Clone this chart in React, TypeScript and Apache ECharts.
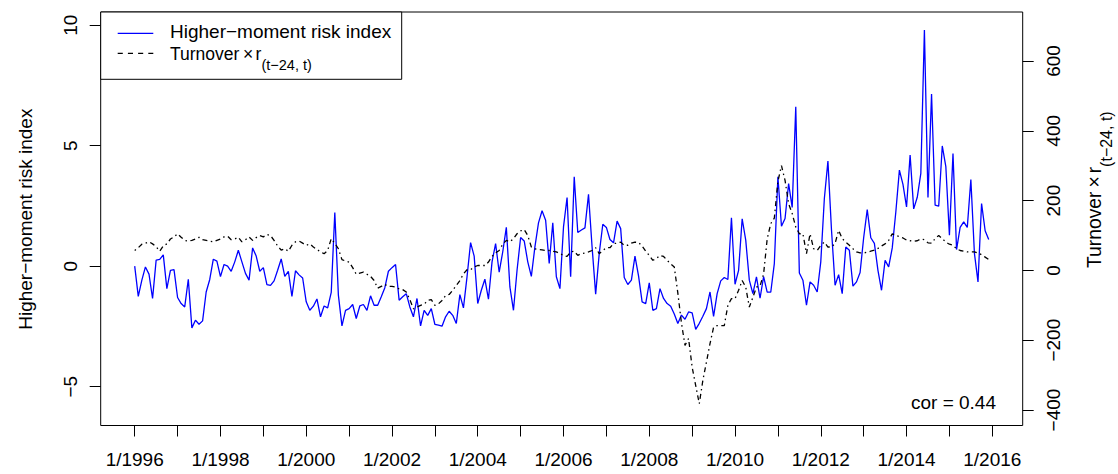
import React, { useEffect, useRef } from "react";
import * as echarts from "echarts";

const START_YEAR = 1996;

// Higher-moment risk index (left axis), monthly 1/1996 .. 12/2015, one line per year
const hmri: number[] = [
  0.0, -1.25, -0.58, -0.03, -0.33, -1.34, 0.25, 0.28, 0.47, -0.93, -0.17, -0.14,
  -1.3, -1.55, -1.69, -0.54, -2.56, -2.24, -2.41, -2.27, -1.07, -0.55, 0.29, 0.21,
  -0.43, 0.07, 0.0, -0.21, 0.18, 0.66, 0.18, -0.3, -0.58, 0.76, 0.42, -0.21,
  -0.06, -0.76, -0.8, -0.61, -0.17, 0.3, -0.42, -0.21, -1.25, -0.19, -0.36, -0.49,
  -1.48, -1.83, -1.66, -1.36, -2.1, -1.65, -1.73, -1.09, 2.23, -1.2, -2.48, -1.83,
  -1.76, -1.59, -2.17, -1.65, -1.59, -1.83, -1.23, -1.62, -1.62, -1.27, -0.89, -0.21,
  -0.06, 0.07, -1.41, -1.27, -1.14, -1.69, -2.1, -1.34, -2.48, -1.83, -2.04, -1.76,
  -2.41, -2.45, -2.49, -2.1, -1.87, -2.04, -2.38, -1.18, -1.73, -0.44, 0.98, 0.42,
  -1.55, -1.0, -0.54, -1.37, 0.18, 0.94, -0.25, 0.6, 1.61, -0.86, -1.83, -0.17,
  1.19, 1.05, 0.18, -0.42, 0.8, 1.8, 2.3, 1.91, 0.11, 1.8, -0.44, -0.93,
  1.63, 2.85, -0.44, 3.71, 1.4, 1.5, 1.59, 2.98, 0.8, -1.16, 0.53, 1.74,
  1.61, 1.11, 0.97, 1.87, 1.56, -0.47, -0.76, -0.58, 0.42, -0.4, -1.48, -1.55,
  -0.69, -1.83, -1.76, -0.93, -1.34, -1.55, -1.66, -1.98, -2.38, -2.03, -2.2, -1.9,
  -1.94, -2.62, -2.37, -2.08, -1.76, -1.07, -2.08, -1.14, -0.61, -0.47, -0.55, 2.01,
  -0.75, -0.17, 1.97, 1.08, -0.58, -1.14, -0.44, -1.33, -0.43, -1.08, -1.08, 0.11,
  3.71, 1.66, 1.98, 3.43, 2.44, 6.62, -0.28, -0.58, -1.62, -0.65, -0.79, -1.07,
  0.18, 2.81, 4.36, 1.5, -0.79, -0.35, -1.14, 0.8, 0.66, -0.83, -0.65, -0.26,
  1.18, 2.35, 1.18, 0.95, -0.17, -1.0, 0.24, -0.03, 0.76, 2.25, 3.99, 3.4,
  2.46, 4.61, 2.38, 2.86, 3.85, 9.8, 2.85, 7.15, 2.53, 2.49, 4.99, 4.13,
  1.29, 4.68, 0.69, 1.61, 1.84, 1.61, 3.6, 0.53, -0.65, 2.6, 1.47, 1.11,
];

// Turnover x r(t-24,t) (right axis), monthly 1/1996 .. 12/2015
const turnover: number[] = [
  57, 65, 75, 78, 82, 76, 68, 55, 70, 76, 90, 96,
  105, 95, 86, 84, 86, 90, 95, 88, 86, 84, 82, 86,
  90, 96, 98, 88, 90, 95, 82, 88, 96, 86, 94, 100,
  96, 103, 100, 86, 70, 58, 62, 55, 72, 82, 84, 78,
  72, 76, 67, 60, 53, 48, 57, 91, 78, 62, 31, 27,
  24, 8, -11, -8, -5, -11, -17, -29, -51, -46, -40, -46,
  -46, -48, -53, -55, -62, -84, -110, -105, -100, -97, -86, -84,
  -100, -96, -86, -72, -69, -57, -43, -29, -10, 2, 2, 10,
  14, 14, 14, 24, 40, 50, 57, 75, 86, 82, 91, 105,
  113, 117, 100, 67, 62, 60, 59, 57, 57, 55, 53, 48,
  43, 40, 53, 55, 43, 48, 50, 53, 57, 65, 48, 57,
  65, 65, 77, 78, 81, 72, 72, 78, 81, 80, 70, 55,
  43, 29, 34, 43, 40, 29, 19, 10, -65, -150, -215, -195,
  -277, -330, -382, -315, -263, -210, -163, -158, -158, -158, -100, -81,
  -81, -57, -29, -48, -105, -77, -48, -45, -10, 90, 134, 150,
  255, 300, 258, 191, 163, 124, 105, 105, 48, 105, 62, 57,
  72, 81, 67, 67, 77, 115, 91, 81, 72, 62, 53, 50,
  50, 52, 55, 58, 63, 70, 76, 86, 105, 100, 97, 93,
  87, 85, 83, 85, 90, 88, 79, 78, 91, 100, 91, 81,
  75, 72, 62, 57, 55, 53, 53, 53, 50, 45, 38, 31,
];

const xTickYears = [1996, 1997, 1998, 1999, 2000, 2001, 2002, 2003, 2004, 2005, 2006, 2007, 2008, 2009, 2010, 2011, 2012, 2013, 2014, 2015, 2016];
const xLabelYears = [1996, 1998, 2000, 2002, 2004, 2006, 2008, 2010, 2012, 2014, 2016];
const leftTicks = [-5, 0, 5, 10];
const rightTicks = [-400, -200, 0, 200, 400, 600];

const leftTitle = "Higher\u2212moment risk index";
const legendLabel1 = "Higher\u2212moment risk index";
const turnoverRich = "{m|Turnover}{g| }{m|\u00d7}{h| }{m|r}{s|(t\u221224, t)}";
const corText = "cor = 0.44";

const FONT = '"Liberation Sans", Arial, Helvetica, sans-serif';
const fmtMinus = (v: number) => String(v).replace("-", "\u2212");

const makeRich = (main: number, sub: number, pad: number, g: number, h: number) => ({
  m: { fontSize: main, fontFamily: FONT, fill: "#000", verticalAlign: "top", lineHeight: main + 2 },
  g: { fontSize: main, fontFamily: FONT, fill: "#000", verticalAlign: "top", lineHeight: main + 2, width: g },
  h: { fontSize: main, fontFamily: FONT, fill: "#000", verticalAlign: "top", lineHeight: main + 2, width: h },
  s: { fontSize: sub, fontFamily: FONT, fill: "#000", verticalAlign: "top", padding: [pad, 0, 0, 0], lineHeight: sub + pad + 2 },
});

export default function App() {
  const ref = useRef<HTMLDivElement>(null);

  useEffect(() => {
    if (!ref.current) return;
    const chart = echarts.init(ref.current, undefined, { renderer: "svg" });

    const monthX = (i: number) => START_YEAR + i / 12;
    const hmriData = hmri.map((v, i) => [monthX(i), v]);
    const turnData = turnover.map((v, i) => [monthX(i), v]);

    const legendRich = makeRich(17.5, 14.5, 12.5, 3.5, 2.5);
    const titleRich = makeRich(19.3, 16, 12.8, 4, 3);

    const tickLabel = {
      fontSize: 19,
      fontFamily: FONT,
      color: "#000",
    };

    const option: any = {
      animation: false,
      backgroundColor: "#ffffff",
      textStyle: { fontFamily: FONT },
      grid: {
        left: 100.7,
        top: 12,
        width: 922,
        height: 413.5,
        show: true,
        borderColor: "#000",
        borderWidth: 1,
        backgroundColor: "transparent",
      },
      xAxis: {
        type: "value",
        min: 1995.207,
        max: 2016.709,
        splitLine: { show: false },
        axisLine: { show: false, onZero: false },
        axisTick: { show: true, customValues: xTickYears, length: 11, lineStyle: { color: "#000", width: 1 } },
        axisLabel: { ...tickLabel, customValues: xLabelYears, margin: 24.5, formatter: (v: number) => "1/" + v },
      },
      yAxis: [
        {
          type: "value",
          position: "left",
          min: -6.612,
          max: 10.551,
          splitLine: { show: false },
          axisLine: { show: false, onZero: false },
          axisTick: { show: true, customValues: leftTicks, length: 11, lineStyle: { color: "#000", width: 1 } },
          axisLabel: { ...tickLabel, customValues: leftTicks, rotate: 90, margin: 20.5, formatter: fmtMinus },
        },
        {
          type: "value",
          position: "right",
          min: -444.4,
          max: 740.4,
          splitLine: { show: false },
          axisLine: { show: false, onZero: false },
          axisTick: { show: true, customValues: rightTicks, length: 11, lineStyle: { color: "#000", width: 1 } },
          axisLabel: { ...tickLabel, customValues: rightTicks, rotate: 90, margin: 21.2, formatter: fmtMinus },
        },
      ],
      series: [
        {
          name: "Higher\u2212moment risk index",
          type: "line",
          data: hmriData,
          yAxisIndex: 0,
          symbol: "none",
          showSymbol: false,
          silent: true,
          lineStyle: { color: "#0000ff", width: 1.3 },
        },
        {
          name: "Turnover",
          type: "line",
          data: turnData,
          yAxisIndex: 1,
          symbol: "none",
          showSymbol: false,
          silent: true,
          lineStyle: { color: "#000", width: 1.3, type: [1.5, 3.5, 5, 3.5] },
        },
      ],
      graphic: [
        {
          type: "rect",
          z: 100,
          shape: { x: 100.7, y: 12, width: 301, height: 67.3 },
          style: { fill: "#fff", stroke: "#000", lineWidth: 1 },
        },
        {
          type: "line",
          z: 101,
          shape: { x1: 117.7, y1: 33.3, x2: 153.3, y2: 33.3 },
          style: { stroke: "#0000ff", lineWidth: 1.3 },
        },
        {
          type: "line",
          z: 101,
          shape: { x1: 117.7, y1: 53.3, x2: 153.3, y2: 53.3 },
          style: { stroke: "#000", lineWidth: 1.3, lineDash: [5.1, 5.1] },
        },
        {
          type: "text",
          z: 101,
          x: 170,
          y: 31.7,
          style: { text: legendLabel1, fontSize: 19, fontFamily: FONT, fill: "#000", align: "left", verticalAlign: "middle" },
        },
        {
          type: "text",
          z: 101,
          x: 170,
          y: 45,
          style: { text: turnoverRich, rich: legendRich, fontSize: 17.5, fontFamily: FONT, fill: "#000", align: "left", verticalAlign: "top" },
        },
        {
          type: "text",
          x: 25,
          y: 219.2,
          rotation: Math.PI / 2,
          style: { text: leftTitle, fontSize: 19, fontFamily: FONT, fill: "#000", align: "center", verticalAlign: "middle" },
        },
        {
          type: "text",
          x: 1085.4,
          y: 268,
          rotation: Math.PI / 2,
          style: { text: turnoverRich, rich: titleRich, fontSize: 19.3, fontFamily: FONT, fill: "#000", align: "left", verticalAlign: "top" },
        },
        {
          type: "text",
          x: 996,
          y: 402.8,
          style: { text: corText, fontSize: 19, fontFamily: FONT, fill: "#000", align: "right", verticalAlign: "middle" },
        },
      ],
    };

    chart.setOption(option);
    return () => chart.dispose();
  }, []);

  return (
    <div
      ref={ref}
      style={{ position: "fixed", left: 0, top: 0, width: 1118, height: 474, background: "#fff" }}
    />
  );
}
